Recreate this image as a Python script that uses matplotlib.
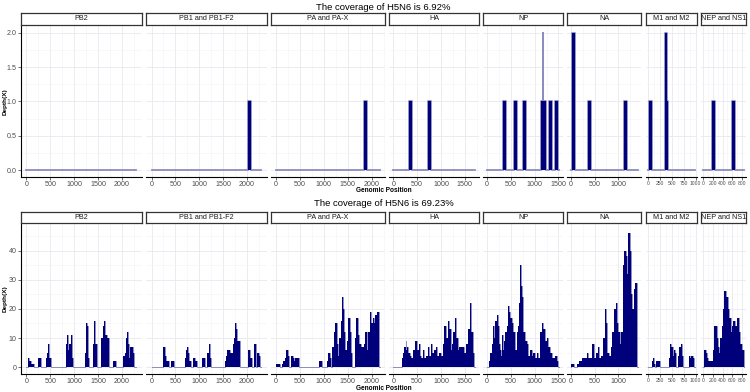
import matplotlib
matplotlib.use("Agg")
import matplotlib.pyplot as plt

plt.rcParams['font.family'] = ['Liberation Sans', 'DejaVu Sans']

# ---------------- data ----------------
segments = ["PB2", "PB1 and PB1-F2", "PA and PA-X", "HA", "NP", "NA",
            "M1 and M2", "NEP and NS1"]
seg_lengths = [2300, 2300, 2170, 1710, 1520, 1410, 980, 850]
seg_xticks = [[0, 500, 1000, 1500, 2000],
              [0, 500, 1000, 1500, 2000],
              [0, 500, 1000, 1500, 2000],
              [0, 500, 1000, 1500],
              [0, 500, 1000, 1500],
              [0, 500, 1000],
              [0, 250, 500, 750, 1000],
              [0, 200, 400, 600, 800]]
titles = ["The coverage of H5N6 is 6.92%", "The coverage of H5N6 is 69.23%"]
x_label = "Genomic Position"
y_label = "Depth(X)"

# Run 1 (top): step profile, depth holds from pos[i] to pos[i+1]
t_pb2_pos = [0, 2300]
t_pb2_dep = [0, 0]
t_pb1_pos = [0, 2025, 2090, 2300]
t_pb1_dep = [0, 1, 0, 0]
t_pa_pos = [0, 1840, 1905, 2170]
t_pa_dep = [0, 1, 0, 0]
t_ha_pos = [0, 335, 400, 725, 790, 1710]
t_ha_dep = [0, 1, 0, 1, 0, 0]
t_np_pos = [0, 330, 392, 560, 623, 750, 812, 1125, 1178, 1181, 1230, 1305, 1368, 1432, 1495, 1520]
t_np_dep = [0, 1, 0, 1, 0, 1, 0, 1, 2, 1, 0, 1, 0, 1, 0, 0]
t_na_pos = [0, 20, 82, 355, 417, 1123, 1186, 1410]
t_na_dep = [0, 2, 0, 1, 0, 1, 0, 0]
t_m_pos = [0, 15, 77, 350, 402, 418, 980]
t_m_dep = [0, 1, 0, 2, 1, 0, 0]
t_ns_pos = [0, 182, 245, 592, 655, 850]
t_ns_dep = [0, 1, 0, 1, 0, 0]

# Run 2 (bottom)
b_pb2_pos = [0, 40, 60, 100, 155, 245, 305, 405, 430, 450, 470, 505, 825, 850, 875, 900, 930, 955, 985,
             1230, 1245, 1270, 1290, 1315, 1385, 1400, 1420, 1445, 1470, 1570, 1595, 1615, 1640, 1680,
             1720, 1815, 1885, 2025, 2060, 2085, 2100, 2125, 2150, 2165, 2230, 2260, 2300]
b_pb2_dep = [0, 3, 2, 1, 0, 3, 0, 3, 5, 8, 3, 0, 8, 11, 6, 8, 11, 3, 0,
             5, 15, 14, 3, 0, 5, 8, 16, 8, 0, 10, 14, 16, 11, 10,
             0, 2, 0, 4, 5, 10, 12, 8, 3, 7, 5, 0, 0]
b_pb1_pos = [0, 250, 275, 295, 360, 405, 475, 705, 725, 745, 770, 790, 830, 880, 915, 950, 1065, 1125,
             1170, 1200, 1230, 1250, 1535, 1560, 1590, 1640, 1700, 1720, 1750, 1775, 1795, 1850,
             2020, 2060, 2100, 2140, 2180, 2200, 2210, 2250, 2280, 2300]
b_pb1_dep = [0, 7, 4, 2, 0, 2, 0, 3, 6, 7, 5, 2, 0, 3, 2, 0, 3, 0,
             5, 8, 3, 0, 2, 4, 6, 5, 8, 10, 15, 13, 9, 0,
             6, 3, 0, 8, 3, 0, 5, 4, 0, 0]
b_pa_pos = [0, 80, 120, 150, 180, 210, 240, 270, 320, 345, 375, 390, 485, 900, 950, 1060, 1090, 1120, 1145,
            1170, 1210, 1240, 1265, 1290, 1320, 1350, 1385, 1405, 1420, 1440, 1480, 1510, 1540, 1570, 1595,
            1650, 1680, 1710, 1740, 1770, 1830, 1870, 1895, 1930, 1960, 1990, 2020, 2050, 2080, 2110, 2150, 2170]
b_pa_dep = [1, 0, 1, 2, 3, 6, 4, 0, 4, 3, 2, 3, 0, 2, 0, 2, 5, 3, 0,
            7, 12, 15, 8, 4, 10, 16, 24, 20, 12, 6, 9, 17, 12, 5, 0,
            10, 17, 11, 8, 7, 8, 12, 6, 12, 19, 15, 17, 15, 18, 19, 0, 0]
b_ha_pos = [0, 186, 200, 230, 256, 275, 295, 315, 340, 370, 420, 445, 465, 490, 535, 560, 590, 620, 650, 680,
            723, 750, 793, 820, 860, 897, 920, 960, 1000, 1040, 1072, 1100, 1141, 1170, 1200, 1230, 1260,
            1290, 1320, 1350, 1385, 1490, 1520, 1560, 1600, 1630, 1660, 1690, 1710]
b_ha_dep = [0, 3, 5, 7, 9, 6, 7, 5, 4, 3, 6, 5, 9, 6, 8, 4, 3, 6, 3, 4,
            7, 4, 8, 5, 6, 7, 4, 5, 4, 8, 14, 10, 16, 13, 6, 8, 12,
            17, 10, 6, 7, 5, 8, 13, 22, 12, 5, 0, 0]
b_np_pos = [0, 50, 71, 99, 120, 150, 180, 203, 225, 250, 273, 294, 310, 335, 350, 378, 413, 448, 470, 483,
            517, 552, 587, 622, 657, 680, 688, 708, 727, 761, 796, 831, 866, 901, 936, 971, 1006, 1041, 1075,
            1110, 1145, 1180, 1215, 1250, 1284, 1319, 1354, 1389, 1424, 1459, 1494, 1520]
b_np_dep = [0, 2, 5, 8, 14, 10, 16, 18, 14, 8, 6, 4, 11, 6, 9, 12, 14, 21, 19, 17,
            15, 12, 6, 12, 14, 22, 35, 28, 24, 12, 9, 8, 4, 6, 4, 5, 3, 5, 3,
            12, 15, 13, 9, 10, 7, 5, 3, 3, 4, 2, 0, 0]
b_na_pos = [0, 6, 76, 137, 180, 228, 333, 368, 438, 494, 530, 577, 600, 630, 680, 710, 740, 770, 800, 840,
            870, 912, 940, 970, 1000, 1030, 1060, 1090, 1115, 1150, 1175, 1207, 1240, 1265, 1290, 1317,
            1350, 1395, 1410]
b_na_dep = [0, 1, 0, 1, 2, 3, 5, 3, 8, 3, 5, 7, 3, 4, 10, 20, 15, 5, 4, 7,
            12, 20, 22, 15, 12, 8, 12, 35, 40, 38, 32, 46, 40, 25, 20, 27,
            29, 0, 0]
b_m_pos = [0, 84, 105, 130, 154, 175, 258, 440, 460, 490, 520, 537, 560, 590, 628, 660, 690, 711, 740,
           851, 880, 900, 940, 970, 980]
b_m_dep = [0, 2, 3, 1, 0, 2, 0, 3, 8, 7, 4, 6, 5, 0, 4, 7, 8, 4, 0,
           4, 3, 4, 3, 0, 0]
b_ns_pos = [0, 21, 45, 70, 105, 200, 215, 230, 279, 300, 321, 349, 384, 405, 440, 474, 509, 544, 579, 600,
            628, 663, 698, 740, 775, 809, 845, 850]
b_ns_dep = [0, 6, 5, 3, 2, 6, 9, 14, 10, 7, 5, 10, 14, 20, 26, 24, 20, 17, 12, 14,
            16, 14, 17, 12, 8, 6, 0, 0]

top_profiles = [(t_pb2_pos, t_pb2_dep), (t_pb1_pos, t_pb1_dep), (t_pa_pos, t_pa_dep), (t_ha_pos, t_ha_dep),
                (t_np_pos, t_np_dep), (t_na_pos, t_na_dep), (t_m_pos, t_m_dep), (t_ns_pos, t_ns_dep)]
bottom_profiles = [(b_pb2_pos, b_pb2_dep), (b_pb1_pos, b_pb1_dep), (b_pa_pos, b_pa_dep), (b_ha_pos, b_ha_dep),
                   (b_np_pos, b_np_dep), (b_na_pos, b_na_dep), (b_m_pos, b_m_dep), (b_ns_pos, b_ns_dep)]

# ---------------- style / layout ----------------
FILL = "#00007a"
EDGE = "#8c8cbe"
GRID_MAJ = "#e8e8ee"
GRID_MIN = "#f4f4f7"
TXT = "#1a1a1a"
TICKTXT = "#4d4d4d"
TICK_FS = [5.1, 5.1, 5.1, 5.1, 5.1, 5.1, 3.6, 3.6]

W, H = 750, 392
fig = plt.figure(figsize=(W / 100, H / 100), dpi=100)


def fx(px):
    return px / W


def fy(py):
    return 1 - py / H


L0, R0, GAP = 21, 746, 4.3
avail = R0 - L0 - GAP * (len(segments) - 1)
tot = sum(seg_lengths)
lefts, widths = [], []
xc = L0
for L in seg_lengths:
    w = avail * L / tot
    lefts.append(xc)
    widths.append(w)
    xc += w + GAP

rows = [
    dict(title=titles[0], title_y=7, strip=(13, 25), panel=(26, 177), ylim=(-0.1, 2.1),
         yticks=[0, 0.5, 1.0, 1.5, 2.0], ylabels=["0.0", "0.5", "1.0", "1.5", "2.0"],
         yminor=[0.25, 0.75, 1.25, 1.75], xlab_y=191, profiles=top_profiles, edge_lw=1.3),
    dict(title=titles[1], title_y=203, strip=(212, 223), panel=(224, 374), ylim=(-2.34, 49.14),
         yticks=[0, 10, 20, 30, 40], ylabels=["0", "10", "20", "30", "40"],
         yminor=[5, 15, 25, 35, 45], xlab_y=388, profiles=bottom_profiles, edge_lw=0.7),
]


def minor_breaks(ticks, lo, hi):
    step = ticks[1] - ticks[0]
    cands = [t + step / 2 for t in [ticks[0] - step] + list(ticks)]
    return [c for c in cands if lo <= c <= hi]


for row in rows:
    pt, pb = row["panel"]
    st, sb = row["strip"]
    for i, seg in enumerate(segments):
        L = seg_lengths[i]
        left, w = lefts[i], widths[i]
        ax = fig.add_axes([fx(left), fy(pb), w / W, (pb - pt) / H])
        lo, hi = -0.05 * L, 1.05 * L
        ax.set_xlim(lo, hi)
        ax.set_ylim(*row["ylim"])
        ax.set_facecolor("white")
        ax.set_xticks(seg_xticks[i])
        ax.set_xticklabels([str(t) for t in seg_xticks[i]], fontsize=TICK_FS[i], color=TICKTXT)
        ax.set_xticks(minor_breaks(seg_xticks[i], lo, hi), minor=True)
        ax.set_yticks(row["yticks"])
        ax.set_yticks(row["yminor"], minor=True)
        ax.grid(which="major", color=GRID_MAJ, lw=0.6, zorder=0)
        ax.grid(which="minor", color=GRID_MIN, lw=0.4, zorder=0)
        ax.set_axisbelow(True)
        ax.tick_params(which="minor", length=0)
        ax.tick_params(axis="x", which="major", length=2, width=0.5, color="#333333", pad=1)
        for s in ["top", "right"]:
            ax.spines[s].set_visible(False)
        ax.spines["bottom"].set_color("black")
        ax.spines["bottom"].set_linewidth(0.8)
        if i == 0:
            ax.spines["left"].set_color("black")
            ax.spines["left"].set_linewidth(0.8)
            ax.set_yticklabels(row["ylabels"], fontsize=5.1, color=TICKTXT)
            ax.tick_params(axis="y", which="major", length=2, width=0.5, color="#333333", pad=1)
        else:
            ax.spines["left"].set_visible(False)
            ax.tick_params(axis="y", which="both", left=False, labelleft=False)

        pos, dep = row["profiles"][i]
        ax.step(pos, dep, where="post", color=EDGE, lw=row["edge_lw"], zorder=2)
        ax.fill_between(pos, dep, step="post", color=FILL, lw=0, zorder=3)

        # strip
        sax = fig.add_axes([fx(left), fy(sb), w / W, (sb - st) / H])
        sax.set_xticks([])
        sax.set_yticks([])
        sax.set_facecolor("white")
        for s in sax.spines.values():
            s.set_color("#333333")
            s.set_linewidth(0.9)
        sax.text(0.5, 0.5, seg, ha="center", va="center", fontsize=5.2, color=TXT,
                 transform=sax.transAxes)

    fig.text(fx((L0 + R0) / 2), fy(row["title_y"]), row["title"], ha="center", va="center",
             fontsize=6.8, color="black")
    fig.text(fx((L0 + R0) / 2), fy(row["xlab_y"]), x_label, ha="center", va="center",
             fontsize=4.7, fontweight="bold", color="black")
    fig.text(fx(5), fy((pt + pb) / 2), y_label, ha="center", va="center", rotation=90,
             fontsize=4.6, fontweight="bold", color="black")

fig.savefig("out.png", dpi=100, facecolor="white")
